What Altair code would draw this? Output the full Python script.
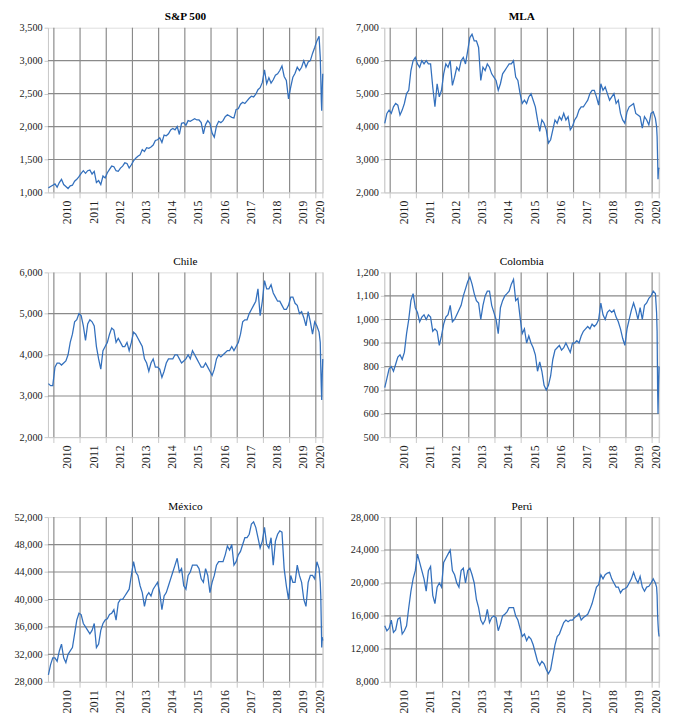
import altair as alt
import pandas as pd

# ---- data (monthly readings Oct 2009 .. Feb 2020, then six points across March 2020) ----
months = pd.period_range("2009-10", "2020-02", freq="M")
tail_t = [2020.17, 2020.19, 2020.21, 2020.225, 2020.245, 2020.265]
dates = [p.year + (p.month - 0.5) / 12 for p in months] + tail_t

sp500 = [1070, 1090, 1110,
         1130, 1080, 1150, 1200, 1120, 1090, 1060, 1100, 1110, 1170, 1200, 1240,
         1290, 1330, 1290, 1330, 1340, 1280, 1320, 1150, 1180, 1120, 1250, 1220,
         1300, 1350, 1400, 1390, 1330, 1320, 1370, 1400, 1450, 1440, 1370, 1420,
         1480, 1520, 1550, 1570, 1650, 1620, 1680, 1670, 1690, 1720, 1790, 1800,
         1830, 1760, 1870, 1860, 1890, 1950, 1970, 1950, 2000, 1880, 2050, 2060,
         2020, 2090, 2080, 2100, 2120, 2100, 2100, 2060, 1890, 2030, 2090, 2050,
         1900, 1840, 2010, 2080, 2060, 2090, 2150, 2180, 2160, 2140, 2130, 2260,
         2270, 2340, 2370, 2350, 2390, 2430, 2460, 2450, 2490, 2560, 2590, 2670,
         2860, 2650, 2740, 2660, 2710, 2780, 2800, 2850, 2920, 2760, 2700, 2420,
         2600, 2750, 2810, 2900, 2850, 2900, 3000, 2900, 2980, 3000, 3110, 3200,
         3300, 3370,
         3050, 2750, 2400, 2240, 2550, 2800]

mla = [4100, 4400, 4500,
       4400, 4600, 4700, 4650, 4350, 4500, 4700, 5000, 5100, 5700, 6000, 6100,
       5900, 5800, 6000, 5900, 6000, 5900, 5900, 5200, 4600, 5300, 4900, 5100,
       5600, 5900, 5800, 6000, 5250, 5500, 5800, 5700, 6000, 6100, 5900, 6300,
       6700, 6800, 6600, 6600, 6400, 5400, 5800, 5700, 5900, 5800, 5600, 5500,
       5400, 5100, 5300, 5600, 5700, 5800, 5900, 5900, 6000, 5500, 5400, 5000,
       4700, 4800, 4700, 4900, 5000, 4800, 4600, 4200, 3850, 4200, 4100, 3900,
       3500, 3600, 3900, 4200, 4100, 4300, 4200, 4400, 4200, 4300, 3900, 4000,
       4200, 4300, 4500, 4600, 4600, 4700, 4800, 5000, 5100, 5100, 4900, 4650,
       5300, 5100, 5200, 5000, 4800, 4900, 5000, 4700, 4800, 4400, 4200, 4100,
       4450, 4600, 4650, 4700, 4400, 4350, 4300, 3950, 4300, 4200, 4050, 4400,
       4450, 4250,
       4000, 3700, 3000, 2400, 2700, 2750]

chile = [3300, 3250, 3250,
         3700, 3800, 3800, 3750, 3800, 3850, 4000, 4300, 4500, 4800, 4850, 5000,
         4950, 4700, 4350, 4750, 4850, 4800, 4700, 4200, 3900, 3650, 4100, 4200,
         4300, 4500, 4650, 4600, 4300, 4400, 4300, 4200, 4200, 4300, 4100, 4300,
         4550, 4500, 4400, 4300, 4200, 3900, 3800, 3600, 3800, 3900, 3700, 3700,
         3650, 3450, 3600, 3800, 3900, 3900, 3900, 4000, 4000, 3900, 3800, 3850,
         3900, 4000, 3900, 4100, 4000, 3900, 3800, 3700, 3700, 3800, 3700, 3600,
         3500, 3650, 3900, 4000, 3950, 4000, 4050, 4100, 4100, 4200, 4100, 4200,
         4300, 4500, 4800, 4850, 4850, 5000, 5100, 5200, 5300, 5600, 4950, 5300,
         5800, 5600, 5600, 5700, 5500, 5400, 5300, 5300, 5200, 5100, 5100, 5200,
         5400, 5400, 5250, 5200, 5000, 5050, 4900, 4700, 5050, 4800, 4500, 4800,
         4700, 4550,
         4300, 3700, 3200, 2900, 3500, 3900]

colombia = [710, 750, 790,
            800, 780, 810, 840, 850, 830, 860, 940, 1000, 1080, 1110, 1050,
            1030, 990, 1010, 1020, 1000, 1020, 1010, 950, 960, 950, 890, 930,
            980, 1010, 1020, 1060, 990, 1000, 1020, 1040, 1060, 1100, 1130, 1160,
            1180, 1150, 1110, 1080, 1070, 1000, 1060, 1100, 1120, 1120, 1060, 1030,
            1000, 940, 1050, 1080, 1100, 1110, 1120, 1150, 1170, 1080, 1090, 1010,
            940, 960, 900, 930, 900, 880, 850, 780, 820, 780, 720, 700,
            720, 760, 830, 870, 880, 890, 870, 880, 900, 880, 860, 900,
            900, 910, 900, 930, 950, 960, 970, 960, 980, 970, 980, 1000,
            1070, 1020, 1000, 1030, 1040, 1030, 1040, 1010, 990, 960, 920, 890,
            960, 1000, 1040, 1070, 1040, 1000, 1050, 1000, 1060, 1070, 1090, 1100,
            1120, 1110,
            1030, 950, 700, 600, 720, 800]

mexico = [29000, 30500, 31500,
          31500, 31000, 32500, 33500, 31500, 30800, 32000, 32500, 33000, 35000, 37000, 38000,
          37800, 36500, 36000, 35500, 35000, 35500, 36500, 33000, 33500, 35500, 36500, 37000,
          37200, 37800, 38000, 38500, 37000, 39500, 40000, 40000, 40500, 41000, 41500, 43500,
          45500, 44000, 43500, 42000, 41000, 39000, 40500, 41000, 40500, 41500, 42000, 42500,
          41000, 38500, 40500, 41000, 42000, 43000, 44000, 45000, 46000, 44000, 44500, 42000,
          41500, 43500, 44000, 45000, 45000, 45000, 44500, 43000, 42500, 44500, 43500, 41000,
          42500, 43500, 45000, 45500, 45500, 45500, 46500, 47800, 47200, 48000, 45000, 45500,
          46500, 47000, 48000, 49000, 49000, 49500, 51000, 51300, 50500, 49000, 47500, 48500,
          50500, 48000, 47500, 49000, 45000, 48500, 49500, 50000, 49800, 44500, 42000, 40000,
          43500, 42500, 42500, 45000, 43500, 42500, 40000, 39000, 42500, 43500, 43500, 43000,
          45500, 44500,
          42500, 40500, 36500, 33000, 34500, 34000]

peru = [14800, 14200, 14500,
        15500, 14000, 14300, 15600, 15800, 13800, 14200, 14800, 17000, 19000, 20500, 21500,
        23500, 22500, 21500, 20500, 19000, 21500, 22000, 18500, 17500, 19500, 20000, 19500,
        22500, 23000, 23500, 24000, 21500, 21000, 20000, 19500, 21500, 21800, 20000, 21500,
        21800, 21000, 20000, 18000, 17000, 15500, 15000, 15500, 16800, 15200, 15800, 16000,
        15800, 14200, 15000, 16000, 16200, 16500, 17000, 17000, 17000, 16000, 15500, 14500,
        13500, 13800, 13000, 13500, 13200, 12500, 11500, 10500, 10000, 10500, 10200, 9500,
        9000, 9500, 11000, 12500, 13500, 13800, 14500, 15200, 15500, 15300, 15500, 15500,
        15800, 16000, 16300, 15500, 15800, 16000, 16200, 16800, 17500, 18500, 19500, 19800,
        21000, 20500, 21000, 21200, 21300, 20500, 20000, 19500, 19500, 18800, 19200, 19300,
        19500, 20000, 20500, 21300, 20500, 20000, 20800, 19500, 19000, 19500, 19600, 20000,
        20500, 20000,
        19500, 18500, 16000, 15000, 14000, 13500]

year_lines = list(range(2010, 2021))
label_pos = [2010.5, 2011.5, 2012.5, 2013.5, 2014.5, 2015.5, 2016.5, 2017.5,
             2018.5, 2019.5, 2020.135]

# ---- style ----
X0, X1 = 2009.775, 2020.27
W, H = 282, 169
FONT = "Liberation Serif"
BLUE = "#3370bd"
GRID = "#8a8a8a"
LIGHT = "#c8c8c8"
TEXT = "#222222"


def panel(title, values, lo, hi, step, weight):
    df = pd.DataFrame({"t": dates, "v": values})
    xs = alt.Scale(domain=[X0, X1], nice=False, zero=False)
    ys = alt.Scale(domain=[lo, hi], nice=False, zero=False)
    xaxis = alt.Axis(values=label_pos, labelExpr="floor(datum.value)", labelAngle=270,
                     grid=False, ticks=False, domainColor=LIGHT, labelFont=FONT,
                     labelFontSize=12, labelColor=TEXT, labelPadding=8, title=None,
                     labelFlush=False, labelOverlap=False)
    yaxis = alt.Axis(values=list(range(lo, hi + 1, step)), format=",d", grid=False,
                     tickColor=LIGHT, tickSize=4, domainColor=LIGHT, labelFont=FONT,
                     labelFontSize=10.5, labelColor=TEXT, labelPadding=2, title=None)
    x = alt.X("t:Q", scale=xs, axis=xaxis)
    y = alt.Y("v:Q", scale=ys, axis=yaxis)
    interior = list(range(lo + step, hi, step))
    vgrid = alt.Chart(pd.DataFrame({"t": year_lines})).mark_rule(
        color=GRID, strokeWidth=1.2).encode(x=x, y=alt.value(0), y2=alt.value(H))
    vtick = alt.Chart(pd.DataFrame({"t": year_lines})).mark_rule(
        color=LIGHT, strokeWidth=1).encode(x=x, y=alt.value(H), y2=alt.value(H + 6))
    hgrid = alt.Chart(pd.DataFrame({"v": interior})).mark_rule(
        color=GRID, strokeWidth=1.2).encode(y=y)
    edge = alt.Chart(pd.DataFrame({"k": [0]})).mark_rule(
        color=LIGHT, strokeWidth=1).encode(x=alt.value(W), y=alt.value(0), y2=alt.value(H + 6))
    line = alt.Chart(df).mark_line(color=BLUE, strokeWidth=1.3).encode(x=x, y=y)
    return alt.layer(vgrid, vtick, hgrid, edge, line).properties(
        width=W, height=H,
        title=alt.TitleParams(text=title, font=FONT, fontSize=11.5, fontWeight=weight,
                              color="#000000", offset=0, anchor="middle", frame="group"))


charts = [
    panel("S&P 500", sp500, 1000, 3500, 500, "bold"),
    panel("MLA", mla, 2000, 7000, 1000, "bold"),
    panel("Chile", chile, 2000, 6000, 1000, "normal"),
    panel("Colombia", colombia, 500, 1200, 100, "normal"),
    panel("México", mexico, 28000, 52000, 4000, "normal"),
    panel("Perú", peru, 8000, 28000, 4000, "normal"),
]

chart = alt.concat(*charts, columns=2, spacing={"row": 32, "column": 24}).configure_view(
    stroke=None).configure_axis(labelFont=FONT).configure_title(font=FONT).configure(
    background="white", padding={"left": 5, "right": 5, "top": -6, "bottom": 0})

chart.save("out.html", embed_options={"renderer": "svg", "actions": False})
